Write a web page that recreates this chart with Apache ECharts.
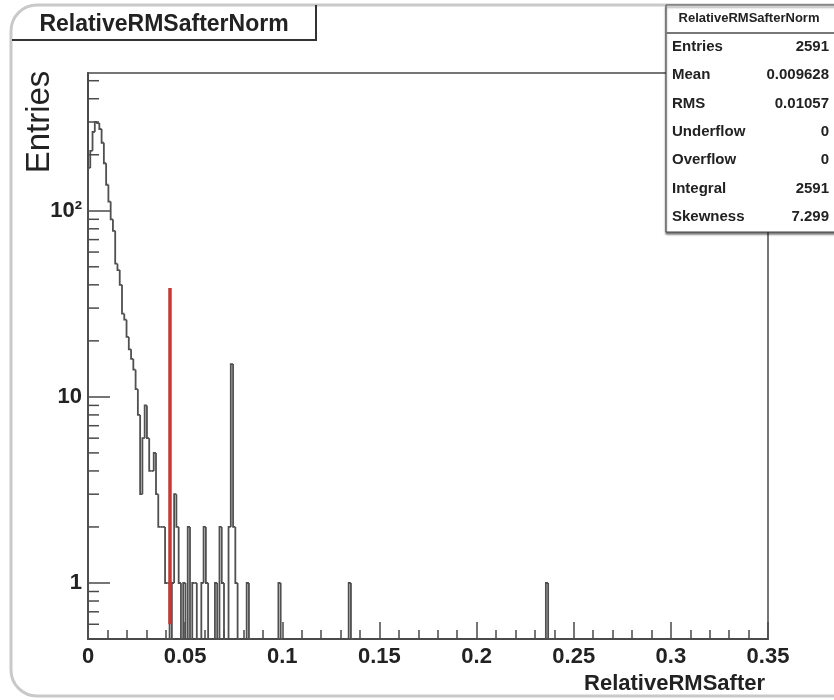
<!DOCTYPE html>
<html>
<head>
<meta charset="utf-8">
<script src="https://cdn.jsdelivr.net/npm/echarts/dist/echarts.min.js"></script>
<style>
  html, body { margin: 0; padding: 0; background: #ffffff; }
  #chart { width: 834px; height: 700px; }
</style>
</head>
<body>
<div id="chart"></div>
<script>
// Histogram binning: 300 bins over [0, 0.35]
const binLow = 0;
const binHigh = 0.35;
const nBins = 300;

// Contents of the first 41 bins (dense core of the distribution)
const coreCounts = [
  170, 210, 265, 300, 296, 275, 232, 180, 138, 112,
   90,  78,  52,  48,  40,  28,  26,  21,  18,  16,
   14,  11,   8,   3,   6,   9,   6,   4,   4,   5,
    3,   2,   2,   2,   1,   1,   0,   1,   3,   2,
    1
];

// Sparse tail: bin index and contents
const tailBins   = [42, 44, 46, 47, 50, 51, 52, 56, 58, 59, 62, 63, 64, 65, 70, 84, 115, 202];
const tailCounts = [ 1,  2,  1,  1,  1,  2,  1,  1,  2,  1,  2, 15,  2,  1,  1,  1,   1,   1];

// Cut marker (red line)
const cutX = [0.0422, 0.0422];
const cutY = [0.6, 38.5];

// Axis ranges and ticks
const xMin = 0, xMax = 0.35, xStep = 0.05;
const yMin = 0.5, yMax = 550;
const yMinorTicks = [0.6, 0.7, 0.8, 0.9, 2, 3, 4, 5, 6, 7, 8, 9, 20, 30, 40, 50, 60, 70, 80, 90, 200, 300, 400, 500];

// Statistics box
const statTitle = 'RelativeRMSafterNorm';
const statNames  = ['Entries', 'Mean', 'RMS', 'Underflow', 'Overflow', 'Integral', 'Skewness'];
const statValues = ['2591', '0.009628', '0.01057', '0', '0', '2591', '7.299'];

// ---- build full bin array ----
const binWidth = (binHigh - binLow) / nBins;
const counts = new Array(nBins).fill(0);
coreCounts.forEach((c, i) => { counts[i] = c; });
tailBins.forEach((b, k) => { counts[b] = tailCounts[k]; });

const histData = counts.map((c, i) => [
  binLow + i * binWidth,
  binLow + (i + 1) * binWidth,
  c,
  i > 0 ? counts[i - 1] : 0
]);

const LINE = '#4a4a4a';
const HIST = '#505050';
const FONT = 'Liberation Sans';

const chart = echarts.init(document.getElementById('chart'), null, { renderer: 'canvas' });

const graphics = [];
// page outline with rounded corner
graphics.push({
  type: 'rect', z: 0,
  shape: { x: 11, y: 5, width: 900, height: 691, r: 26 },
  style: { fill: 'none', stroke: '#c9c9c9', lineWidth: 3 }
});
// title tab
graphics.push({
  type: 'polyline', z: 10,
  shape: { points: [[12, 40], [316, 40], [316, 5]] },
  style: { stroke: '#333', lineWidth: 2, fill: 'none' }
});
graphics.push({
  type: 'text', z: 10, x: 164, y: 25,
  style: { text: 'RelativeRMSafterNorm', font: 'bold 23px "' + FONT + '"', fill: '#222', align: 'center', verticalAlign: 'middle' }
});
// y axis title
graphics.push({
  type: 'text', z: 10, x: 40, y: 122, rotation: Math.PI / 2,
  style: { text: 'Entries', font: '33px "' + FONT + '"', fill: '#222', align: 'center', verticalAlign: 'middle' }
});
// x axis title
graphics.push({
  type: 'text', z: 10, x: 765, y: 684,
  style: { text: 'RelativeRMSafter', font: 'bold 22px "' + FONT + '"', fill: '#222', align: 'right', verticalAlign: 'middle' }
});
// statistics box
graphics.push({
  type: 'rect', z: 20,
  shape: { x: 666, y: 5, width: 200, height: 227 },
  style: { fill: '#fff', stroke: '#444', lineWidth: 1, shadowColor: 'rgba(0,0,0,0.55)', shadowOffsetY: 2, shadowBlur: 2 }
});
graphics.push({
  type: 'line', z: 21,
  shape: { x1: 666, y1: 33, x2: 834, y2: 33 },
  style: { stroke: '#777', lineWidth: 2 }
});
graphics.push({
  type: 'text', z: 21, x: 749, y: 18,
  style: { text: statTitle, font: 'bold 13px "' + FONT + '"', fill: '#222', align: 'center', verticalAlign: 'middle' }
});
statNames.forEach((name, k) => {
  const y = 47 + k * 28.3;
  graphics.push({
    type: 'text', z: 21, x: 672, y: y,
    style: { text: name, font: 'bold 15px "' + FONT + '"', fill: '#222', align: 'left', verticalAlign: 'middle' }
  });
  graphics.push({
    type: 'text', z: 21, x: 829, y: y,
    style: { text: statValues[k], font: 'bold 15px "' + FONT + '"', fill: '#222', align: 'right', verticalAlign: 'middle' }
  });
});

const option = {
  backgroundColor: '#ffffff',
  animation: false,
  grid: {
    left: 88, right: 66, top: 73, bottom: 61,
    show: true, borderColor: LINE, borderWidth: 1.5, backgroundColor: 'transparent'
  },
  xAxis: {
    type: 'value', min: xMin, max: xMax, interval: xStep,
    splitLine: { show: false },
    axisLine: { show: true, onZero: false, lineStyle: { color: LINE, width: 2 } },
    axisTick: { show: true, inside: true, length: 17, lineStyle: { color: LINE, width: 1.5 } },
    minorTick: { show: true, splitNumber: 5, length: 9, lineStyle: { color: LINE, width: 1.5 } },
    axisLabel: {
      margin: 7, color: '#222', fontFamily: FONT, fontWeight: 'bold', fontSize: 22,
      formatter: v => (v === 0 ? '0' : String(+v.toFixed(2)))
    }
  },
  yAxis: {
    type: 'log', logBase: 10, min: yMin, max: yMax,
    splitLine: { show: false },
    axisLine: { show: true, lineStyle: { color: LINE, width: 2 } },
    axisTick: { show: true, inside: true, length: 22, lineStyle: { color: LINE, width: 1.5 } },
    axisLabel: {
      margin: 6, color: '#222', fontFamily: FONT, fontWeight: 'bold', fontSize: 22,
      showMinLabel: false, showMaxLabel: false,
      formatter: v => {
        const r = Math.round(v);
        return r === 100 ? '10\u00B2' : String(r);
      }
    }
  },
  graphic: graphics,
  series: [
    {
      // minor ticks of the logarithmic axis
      type: 'custom', z: 3, silent: true,
      data: yMinorTicks.map(v => [xMin, v]),
      encode: { x: 0, y: 1 },
      renderItem: (params, api) => {
        const p = api.coord([xMin, api.value(1)]);
        return {
          type: 'line',
          shape: { x1: p[0], y1: p[1], x2: p[0] + 11, y2: p[1] },
          style: { stroke: LINE, lineWidth: 1.5 }
        };
      }
    },
    {
      // histogram outline
      type: 'custom', z: 4, silent: true,
      data: histData,
      encode: { x: [0, 1], y: 2 },
      renderItem: (params, api) => {
        const lo = api.value(0), hi = api.value(1), c = api.value(2), p = api.value(3);
        if (c <= 0 && p <= 0) return null;
        const yb = api.coord([lo, yMin])[1];
        const x0 = api.coord([lo, yMin])[0];
        const x1 = api.coord([hi, yMin])[0];
        const yc = c > 0 ? api.coord([lo, c])[1] : yb;
        const yp = p > 0 ? api.coord([lo, p])[1] : yb;
        return {
          type: 'polyline',
          shape: { points: [[x0, yp], [x0, yc], [x1, yc]] },
          style: { stroke: HIST, lineWidth: 1.8, fill: null }
        };
      }
    },
    {
      // cut value marker
      type: 'line', z: 5, silent: true,
      data: cutX.map((x, i) => [x, cutY[i]]),
      symbol: 'none',
      lineStyle: { color: '#c63a32', width: 3.5 }
    }
  ]
};

chart.setOption(option);
</script>
</body>
</html>
